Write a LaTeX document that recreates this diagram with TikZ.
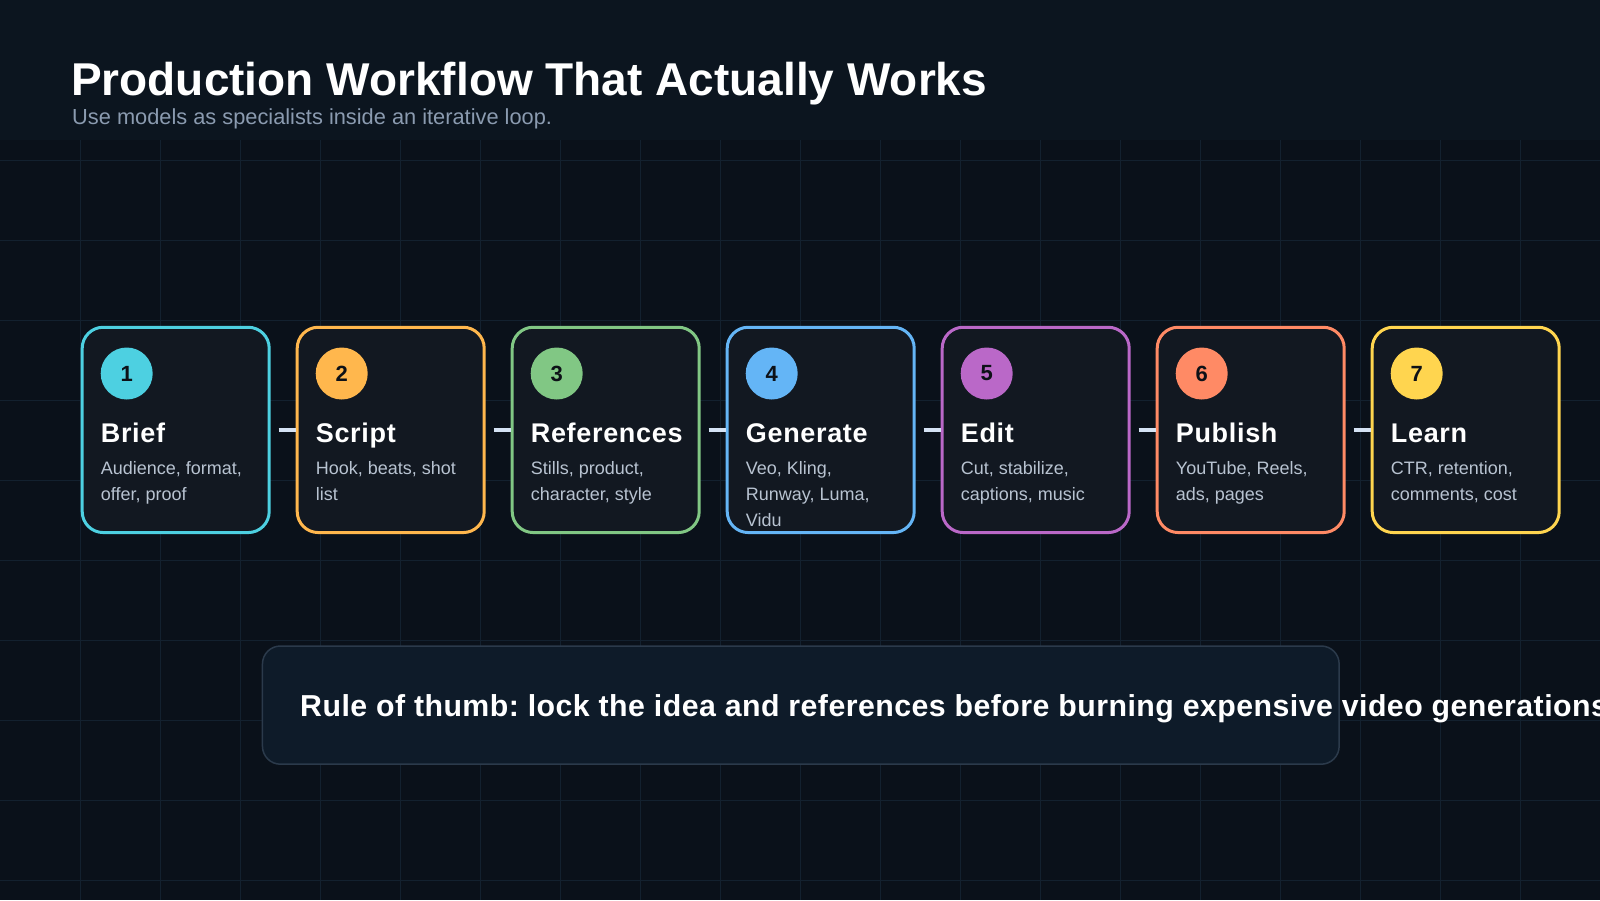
\documentclass[tikz,border=0pt]{standalone}
\usepackage{fontspec}
\setmainfont{Liberation Sans}
\newfontfamily\spacedfont{Liberation Sans}[LetterSpace=2.5]
\newfontfamily\rulefont{Liberation Sans}[LetterSpace=1.5]
\frenchspacing
\definecolor{bgc}{HTML}{0A111A}
\definecolor{headc}{HTML}{0C151F}
\definecolor{gridc}{HTML}{13212F}
\definecolor{cardc}{HTML}{121821}
\definecolor{subc}{HTML}{8B9BB0}
\definecolor{descc}{HTML}{B8C3D1}
\definecolor{linkc}{HTML}{D4E2F4}
\definecolor{digitc}{HTML}{0D1117}
\definecolor{rulefill}{HTML}{0E1B29}
\definecolor{ruleline}{HTML}{2B3A4B}
\definecolor{cA}{HTML}{4DD0E1}
\definecolor{cB}{HTML}{FFB74D}
\definecolor{cC}{HTML}{81C784}
\definecolor{cD}{HTML}{64B5F6}
\definecolor{cE}{HTML}{BA68C8}
\definecolor{cF}{HTML}{FF8A65}
\definecolor{cG}{HTML}{FFD54F}
\begin{document}
\begin{tikzpicture}[x=1pt,y=-1pt,
  card/.style={draw=#1,fill=cardc,line width=3pt,rounded corners=21pt,
    minimum width=187pt,minimum height=205.3pt,inner sep=0pt},
  badge/.style={circle,fill=#1,minimum size=52pt,inner sep=0pt,
    font=\fontsize{22}{26}\selectfont\bfseries,text=digitc},
  cardtitle/.style={anchor=base west,inner sep=0pt,text=white,
    font=\spacedfont\fontsize{27}{32}\selectfont\bfseries},
  carddesc/.style={anchor=base west,inner sep=0pt,text=descc,
    font=\fontsize{18}{26}\selectfont},
  link/.style={draw=linkc,line width=3.7pt},
]
\useasboundingbox (0,0) rectangle (1600,900);
\fill[bgc] (0,0) rectangle (1600,900);
% grid
\foreach \gx in {80,160,...,1520} \draw[gridc,line width=1pt] (\gx,140) -- (\gx,900);
\foreach \gy in {160,240,...,880} \draw[gridc,line width=1pt] (0,\gy) -- (1600,\gy);
\fill[headc] (0,0) rectangle (1600,140);
% header
\node[anchor=base west,inner sep=0pt,text=white,font=\fontsize{46}{55}\selectfont\bfseries] (title) at (71,95) {Production Workflow That Actually Works};
\node[anchor=base west,inner sep=0pt,text=subc,font=\fontsize{21.8}{26}\selectfont] (subtitle) at (72,124) {Use models as specialists inside an iterative loop.};
% cards
\foreach \i/\col/\num/\ttl/\la/\lb/\lc in {
  0/cA/1/Brief/{Audience, format,}/{offer, proof}/{},
  1/cB/2/Script/{Hook, beats, shot}/{list}/{},
  2/cC/3/References/{Stills, product,}/{character, style}/{},
  3/cD/4/Generate/{Veo, Kling,}/{Runway, Luma,}/{Vidu},
  4/cE/5/Edit/{Cut, stabilize,}/{captions, music}/{},
  5/cF/6/Publish/{YouTube, Reels,}/{ads, pages}/{},
  6/cG/7/Learn/{CTR, retention,}/{comments, cost}/{}} {
  \pgfmathsetmacro{\L}{80.7+215*\i}
  \node[card=\col] (b\num) at (\L+95,429.9) {};
  \node[badge=\col] (c\num) at (\L+46,373.5) {\num};
  \node[cardtitle] (t\num) at (\L+20,442) {\ttl};
  \node[carddesc] (d\num a) at (\L+20,474) {\la};
  \node[carddesc] (d\num b) at (\L+20,500) {\lb};
  \node[carddesc] (d\num c) at (\L+20,526) {\lc};
}
% connectors
\foreach \a/\b in {1/2,2/3,3/4,4/5,5/6,6/7}
  \draw[link] ([xshift=8pt]b\a.east) -- (b\b.west);
% rule box
\node[draw=ruleline,fill=rulefill,line width=1.5pt,rounded corners=18pt,
  minimum width=1076.7pt,minimum height=118.2pt,inner sep=0pt] (rule) at (800.8,705.1) {};
\node[anchor=base west,inner sep=0pt,text=white,font=\rulefont\fontsize{30.3}{36}\selectfont\bfseries] (ruletext) at (300,716) {Rule of thumb: lock the idea and references before burning expensive video generations};
\end{tikzpicture}
\end{document}
